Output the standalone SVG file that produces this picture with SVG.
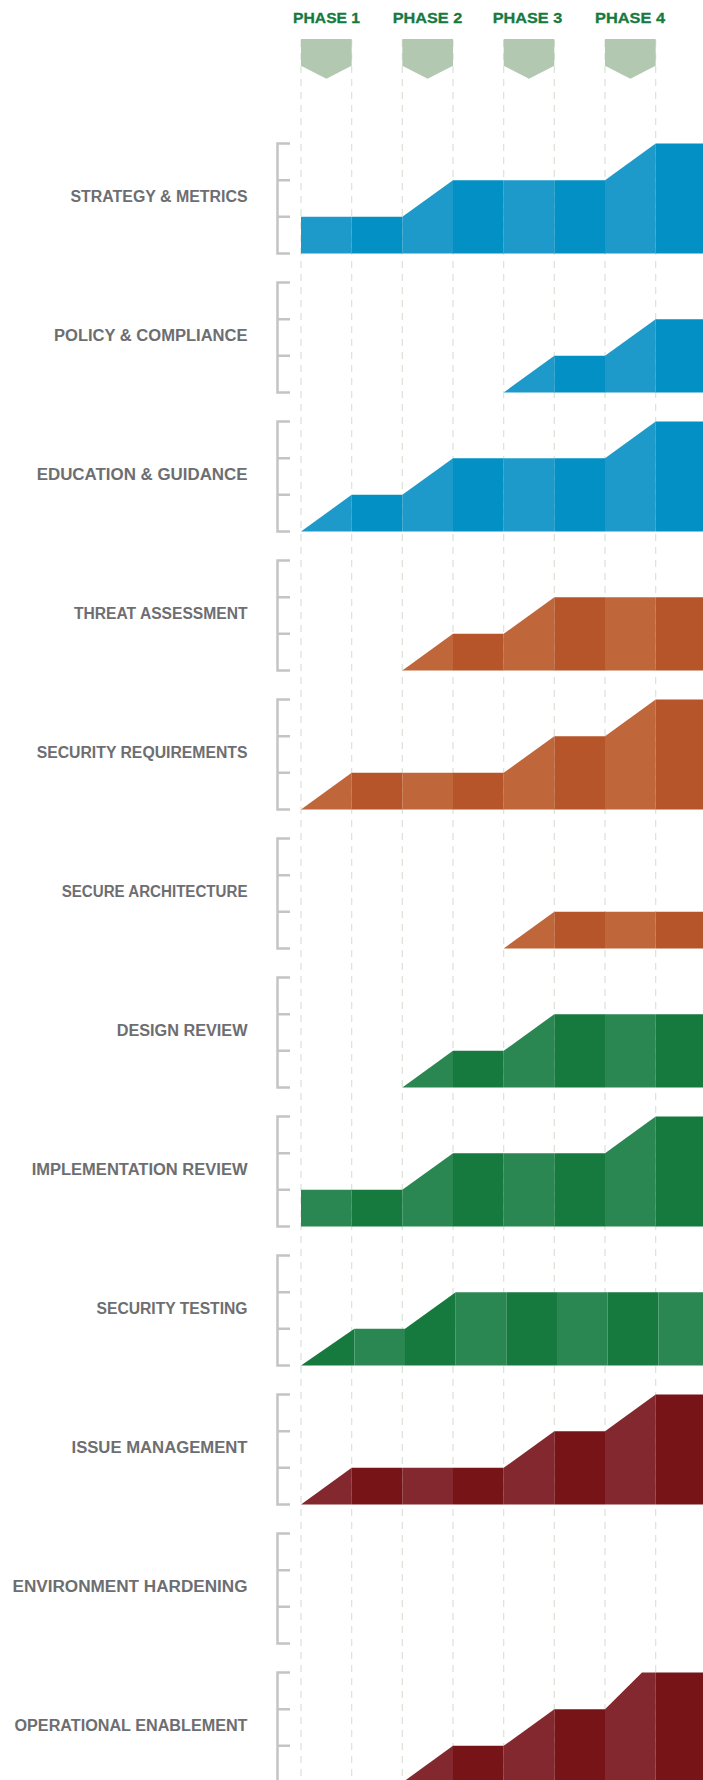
<svg xmlns="http://www.w3.org/2000/svg" width="703" height="1780" viewBox="0 0 703 1780">
<style>
.grid line{stroke:#dde4da;stroke-width:1.3;stroke-dasharray:7 6}
.chev{fill:#b3c8b0}
.ph{font-family:"Liberation Sans",Arial,sans-serif;font-weight:bold;font-size:15.5px;fill:#167a3e;text-anchor:middle;stroke:#167a3e;stroke-width:0.3}
.lbl{font-family:"Liberation Sans",Arial,sans-serif;font-weight:bold;font-size:16px;fill:#6d6e71;text-anchor:end}
.br{fill:none;stroke:#c4c4c4;stroke-width:2.5}
.bL{fill:#1d9aca}.bD{fill:#0290c5}
.oL{fill:#c0663b}.oD{fill:#b6552a}
.gL{fill:#2a8752}.gD{fill:#167a3e}
.rL{fill:#83282e}.rD{fill:#771418}
</style>
<defs>
<path id="bracket" class="br" d="M290,0H277.5V110H290M277.5,36.67H290M277.5,73.33H290"/>
</defs>
<rect width="703" height="1780" fill="#ffffff"/>
<g id="gridlines" class="grid">
<line x1="301" y1="40" x2="301" y2="1780"/>
<line x1="351.67" y1="40" x2="351.67" y2="1780"/>
<line x1="402.33" y1="40" x2="402.33" y2="1780"/>
<line x1="453" y1="40" x2="453" y2="1780"/>
<line x1="503.67" y1="40" x2="503.67" y2="1780"/>
<line x1="554.33" y1="40" x2="554.33" y2="1780"/>
<line x1="605" y1="40" x2="605" y2="1780"/>
<line x1="655.67" y1="40" x2="655.67" y2="1780"/>
</g>
<g id="phase1"><polygon class="chev" points="301,39 351.67,39 351.67,65.7 326.33,78.7 301,65.7"/><text class="ph" x="326.6" y="23.3" textLength="67" lengthAdjust="spacingAndGlyphs">PHASE 1</text></g>
<g id="phase2"><polygon class="chev" points="402.33,39 453,39 453,65.7 427.67,78.7 402.33,65.7"/><text class="ph" x="427.5" y="23.3" textLength="69.5" lengthAdjust="spacingAndGlyphs">PHASE 2</text></g>
<g id="phase3"><polygon class="chev" points="503.67,39 554.33,39 554.33,65.7 529,78.7 503.67,65.7"/><text class="ph" x="527.5" y="23.3" textLength="69.5" lengthAdjust="spacingAndGlyphs">PHASE 3</text></g>
<g id="phase4"><polygon class="chev" points="605,39 655.67,39 655.67,65.7 630.33,78.7 605,65.7"/><text class="ph" x="630" y="23.3" textLength="70" lengthAdjust="spacingAndGlyphs">PHASE 4</text></g>

<g id="strategy-metrics" transform="translate(0,143.5)">
<text class="lbl" x="247.5" y="58" textLength="177" lengthAdjust="spacingAndGlyphs">STRATEGY &amp; METRICS</text>
<use href="#bracket"/>
<polygon class="bL" points="301,110 301,73.33 351.67,73.33 351.67,110"/>
<polygon class="bD" points="351.67,110 351.67,73.33 402.33,73.33 402.33,110"/>
<polygon class="bL" points="402.33,110 402.33,73.33 453,36.67 453,110"/>
<polygon class="bD" points="453,110 453,36.67 503.67,36.67 503.67,110"/>
<polygon class="bL" points="503.67,110 503.67,36.67 554.33,36.67 554.33,110"/>
<polygon class="bD" points="554.33,110 554.33,36.67 605,36.67 605,110"/>
<polygon class="bL" points="605,110 605,36.67 655.67,0 655.67,110"/>
<polygon class="bD" points="655.67,110 655.67,0 703,0 703,110"/>
</g>

<g id="policy-compliance" transform="translate(0,282.5)">
<text class="lbl" x="247.5" y="58" textLength="193.5" lengthAdjust="spacingAndGlyphs">POLICY &amp; COMPLIANCE</text>
<use href="#bracket"/>
<polygon class="bL" points="503.67,110 554.33,73.33 554.33,110"/>
<polygon class="bD" points="554.33,110 554.33,73.33 605,73.33 605,110"/>
<polygon class="bL" points="605,110 605,73.33 655.67,36.67 655.67,110"/>
<polygon class="bD" points="655.67,110 655.67,36.67 703,36.67 703,110"/>
</g>

<g id="education-guidance" transform="translate(0,421.5)">
<text class="lbl" x="247.5" y="58" textLength="210.8" lengthAdjust="spacingAndGlyphs">EDUCATION &amp; GUIDANCE</text>
<use href="#bracket"/>
<polygon class="bL" points="301,110 351.67,73.33 351.67,110"/>
<polygon class="bD" points="351.67,110 351.67,73.33 402.33,73.33 402.33,110"/>
<polygon class="bL" points="402.33,110 402.33,73.33 453,36.67 453,110"/>
<polygon class="bD" points="453,110 453,36.67 503.67,36.67 503.67,110"/>
<polygon class="bL" points="503.67,110 503.67,36.67 554.33,36.67 554.33,110"/>
<polygon class="bD" points="554.33,110 554.33,36.67 605,36.67 605,110"/>
<polygon class="bL" points="605,110 605,36.67 655.67,0 655.67,110"/>
<polygon class="bD" points="655.67,110 655.67,0 703,0 703,110"/>
</g>

<g id="threat-assessment" transform="translate(0,560.5)">
<text class="lbl" x="247.5" y="58" textLength="173.5" lengthAdjust="spacingAndGlyphs">THREAT ASSESSMENT</text>
<use href="#bracket"/>
<polygon class="oL" points="402.33,110 453,73.33 453,110"/>
<polygon class="oD" points="453,110 453,73.33 503.67,73.33 503.67,110"/>
<polygon class="oL" points="503.67,110 503.67,73.33 554.33,36.67 554.33,110"/>
<polygon class="oD" points="554.33,110 554.33,36.67 605,36.67 605,110"/>
<polygon class="oL" points="605,110 605,36.67 655.67,36.67 655.67,110"/>
<polygon class="oD" points="655.67,110 655.67,36.67 703,36.67 703,110"/>
</g>

<g id="security-requirements" transform="translate(0,699.5)">
<text class="lbl" x="247.5" y="58" textLength="210.8" lengthAdjust="spacingAndGlyphs">SECURITY REQUIREMENTS</text>
<use href="#bracket"/>
<polygon class="oL" points="301,110 351.67,73.33 351.67,110"/>
<polygon class="oD" points="351.67,110 351.67,73.33 402.33,73.33 402.33,110"/>
<polygon class="oL" points="402.33,110 402.33,73.33 453,73.33 453,110"/>
<polygon class="oD" points="453,110 453,73.33 503.67,73.33 503.67,110"/>
<polygon class="oL" points="503.67,110 503.67,73.33 554.33,36.67 554.33,110"/>
<polygon class="oD" points="554.33,110 554.33,36.67 605,36.67 605,110"/>
<polygon class="oL" points="605,110 605,36.67 655.67,0 655.67,110"/>
<polygon class="oD" points="655.67,110 655.67,0 703,0 703,110"/>
</g>

<g id="secure-architecture" transform="translate(0,838.5)">
<text class="lbl" x="247.5" y="58" textLength="185.8" lengthAdjust="spacingAndGlyphs">SECURE ARCHITECTURE</text>
<use href="#bracket"/>
<polygon class="oL" points="503.67,110 554.33,73.33 554.33,110"/>
<polygon class="oD" points="554.33,110 554.33,73.33 605,73.33 605,110"/>
<polygon class="oL" points="605,110 605,73.33 655.67,73.33 655.67,110"/>
<polygon class="oD" points="655.67,110 655.67,73.33 703,73.33 703,110"/>
</g>

<g id="design-review" transform="translate(0,977.5)">
<text class="lbl" x="247.5" y="58" textLength="130.8" lengthAdjust="spacingAndGlyphs">DESIGN REVIEW</text>
<use href="#bracket"/>
<polygon class="gL" points="402.33,110 453,73.33 453,110"/>
<polygon class="gD" points="453,110 453,73.33 503.67,73.33 503.67,110"/>
<polygon class="gL" points="503.67,110 503.67,73.33 554.33,36.67 554.33,110"/>
<polygon class="gD" points="554.33,110 554.33,36.67 605,36.67 605,110"/>
<polygon class="gL" points="605,110 605,36.67 655.67,36.67 655.67,110"/>
<polygon class="gD" points="655.67,110 655.67,36.67 703,36.67 703,110"/>
</g>

<g id="implementation-review" transform="translate(0,1116.5)">
<text class="lbl" x="247.5" y="58" textLength="215.8" lengthAdjust="spacingAndGlyphs">IMPLEMENTATION REVIEW</text>
<use href="#bracket"/>
<polygon class="gL" points="301,110 301,73.33 351.67,73.33 351.67,110"/>
<polygon class="gD" points="351.67,110 351.67,73.33 402.33,73.33 402.33,110"/>
<polygon class="gL" points="402.33,110 402.33,73.33 453,36.67 453,110"/>
<polygon class="gD" points="453,110 453,36.67 503.67,36.67 503.67,110"/>
<polygon class="gL" points="503.67,110 503.67,36.67 554.33,36.67 554.33,110"/>
<polygon class="gD" points="554.33,110 554.33,36.67 605,36.67 605,110"/>
<polygon class="gL" points="605,110 605,36.67 655.67,0 655.67,110"/>
<polygon class="gD" points="655.67,110 655.67,0 703,0 703,110"/>
</g>

<g id="security-testing" transform="translate(0,1255.5)">
<text class="lbl" x="247.5" y="58" textLength="151" lengthAdjust="spacingAndGlyphs">SECURITY TESTING</text>
<use href="#bracket"/>
<polygon class="gD" points="301,110 354.33,73.33 354.33,110"/>
<polygon class="gL" points="354.33,110 354.33,73.33 405,73.33 405,110"/>
<polygon class="gD" points="405,110 405,73.33 455.67,36.67 455.67,110"/>
<polygon class="gL" points="455.67,110 455.67,36.67 506.33,36.67 506.33,110"/>
<polygon class="gD" points="506.33,110 506.33,36.67 557,36.67 557,110"/>
<polygon class="gL" points="557,110 557,36.67 607.67,36.67 607.67,110"/>
<polygon class="gD" points="607.67,110 607.67,36.67 658.33,36.67 658.33,110"/>
<polygon class="gL" points="658.33,110 658.33,36.67 703,36.67 703,110"/>
</g>

<g id="issue-management" transform="translate(0,1394.5)">
<text class="lbl" x="247.5" y="58" textLength="176" lengthAdjust="spacingAndGlyphs">ISSUE MANAGEMENT</text>
<use href="#bracket"/>
<polygon class="rL" points="301,110 351.67,73.33 351.67,110"/>
<polygon class="rD" points="351.67,110 351.67,73.33 402.33,73.33 402.33,110"/>
<polygon class="rL" points="402.33,110 402.33,73.33 453,73.33 453,110"/>
<polygon class="rD" points="453,110 453,73.33 503.67,73.33 503.67,110"/>
<polygon class="rL" points="503.67,110 503.67,73.33 554.33,36.67 554.33,110"/>
<polygon class="rD" points="554.33,110 554.33,36.67 605,36.67 605,110"/>
<polygon class="rL" points="605,110 605,36.67 655.67,0 655.67,110"/>
<polygon class="rD" points="655.67,110 655.67,0 703,0 703,110"/>
</g>

<g id="environment-hardening" transform="translate(0,1533.5)">
<text class="lbl" x="247.5" y="58" textLength="235" lengthAdjust="spacingAndGlyphs">ENVIRONMENT HARDENING</text>
<use href="#bracket"/>
</g>

<g id="operational-enablement" transform="translate(0,1672.5)">
<text class="lbl" x="247.5" y="58" textLength="233" lengthAdjust="spacingAndGlyphs">OPERATIONAL ENABLEMENT</text>
<use href="#bracket"/>
<polygon class="rL" points="402.33,110 453,73.33 453,110"/>
<polygon class="rD" points="453,110 453,73.33 503.67,73.33 503.67,110"/>
<polygon class="rL" points="503.67,110 503.67,73.33 554.33,36.67 554.33,110"/>
<polygon class="rD" points="554.33,110 554.33,36.67 605,36.67 605,110"/>
<polygon class="rL" points="605,110 605,36.67 642,0 655.67,0 655.67,110"/>
<polygon class="rD" points="655.67,110 655.67,0 703,0 703,110"/>
</g>
</svg>
